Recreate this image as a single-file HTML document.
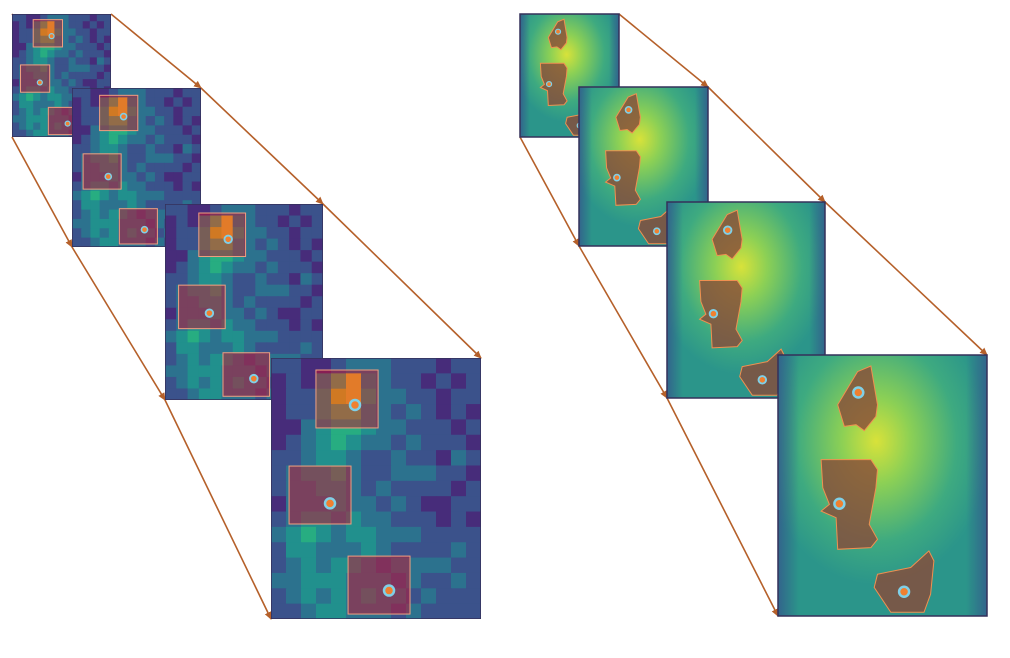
<!DOCTYPE html>
<html><head><meta charset="utf-8"><style>
body{margin:0;background:#fff;width:1010px;height:658px;overflow:hidden;font-family:"Liberation Sans",sans-serif}
svg{display:block}
</style></head><body>
<svg id="fig" width="1010" height="658" viewBox="0 0 1010 658" xmlns="http://www.w3.org/2000/svg">
<defs>
<marker id="ah" markerWidth="8" markerHeight="8" refX="7" refY="4" orient="auto" markerUnits="userSpaceOnUse"><path d="M0,0.5 L8,4 L0,7.5 Z" fill="#b5602a"/></marker>
<radialGradient id="glow" cx="0.47" cy="0.33" r="0.55">
<stop offset="0" stop-color="#d8e23a"/><stop offset="0.3" stop-color="#8cd055"/><stop offset="0.7" stop-color="#3eaa80"/><stop offset="1" stop-color="#2b958a"/></radialGradient>
<linearGradient id="edge" x1="0" y1="0" x2="1" y2="0"><stop offset="0" stop-color="#34588c" stop-opacity="0.8"/><stop offset="0.1" stop-color="#34588c" stop-opacity="0"/><stop offset="0.9" stop-color="#34588c" stop-opacity="0"/><stop offset="1" stop-color="#34588c" stop-opacity="0.8"/></linearGradient>
</defs>
<g id="arrows"></g>
<g id="panels"></g>
</svg>
<script>
// heatmap grid values (0-9), rows top->bottom
const gridRows = [
"22112333222122","12146943221212","12258953322122","12256643232121","11345543322212",
"12345433232221","22344322322132","23445322333221","23344323222212","13334332321122",
"23443433222121","34543443332222","24433343222232","23434432333322","33444333232232",
"23434343323222","22344333232222"];
const viridis = ["#440154","#472c7a","#3b528b","#2c728e","#21908d","#27ad81","#5cc863","#aadc32","#d8e219","#fde725"];
// box & dot positions as fractions of panel
const boxes = [[0.214,0.046,0.296,0.222],[0.086,0.414,0.295,0.222],[0.367,0.759,0.295,0.222]];
const dots = [[0.40,0.18],[0.281,0.557],[0.562,0.891]];
const polys = [
[[180,150],[240,50],[280,33],[300,150],[295,185],[260,228],[235,210],[200,215]],
[[130,315],[280,315],[300,345],[295,400],[275,510],[300,555],[280,580],[180,585],[175,490],[130,470],[155,450],[135,400]],
[[300,660],[400,640],[455,590],[470,620],[460,720],[440,775],[340,775],[290,700]]];
const polyDots = [[242,113],[185,448],[380,713]];
const leftPanels = [[12,14,99,123],[72,88,129,159],[165,204,158,196],[271,358,210,261]];
const rightPanels = [[520,14,99,123],[579,87,129,159],[667,202,158,196],[778,355,209,261]];
const NS="http://www.w3.org/2000/svg";
const P=document.getElementById('panels'), A=document.getElementById('arrows');
function mk(t,at,par){const e=document.createElementNS(NS,t);for(const k in at)e.setAttribute(k,at[k]);par.appendChild(e);return e;}
function arrows(panels,name){
  for(let i=0;i<panels.length-1;i++){
    const a=panels[i],b=panels[i+1];
    const segs=[[a[0],a[1],b[0],b[1]],[a[0]+a[2],a[1],b[0]+b[2],b[1]],[a[0],a[1]+a[3],b[0],b[1]+b[3]]];
    segs.forEach((s,j)=>{const l=mk('line',{x1:s[0],y1:s[1],x2:s[2],y2:s[3],stroke:'#b5602a','stroke-width':1.6,'marker-end':'url(#ah)'},A);
      
      });
  }
}
arrows(leftPanels,'left');arrows(rightPanels,'right');
leftPanels.forEach((p,i)=>{
  const [x,y,w,h]=p;
  const g=mk('g',{},P);
  
  
  const cid='cl'+i;const cp=mk('clipPath',{id:cid},g);mk('rect',{x,y,width:w,height:h},cp);
  g.setAttribute('clip-path','url(#'+cid+')');
  const R=gridRows.length,C=gridRows[0].length;
  gridRows.forEach((row,r)=>{for(let c=0;c<C;c++){
    const cell=mk('rect',{x:x+c*w/C,y:y+r*h/R,width:w/C+0.6,height:h/R+0.6,fill:viridis[+row[c]]},g);
    
    }});
  boxes.forEach((b,k)=>{const bx=mk('rect',{x:x+b[0]*w,y:y+b[1]*h,width:b[2]*w,height:b[3]*h,fill:'#c8102e','fill-opacity':0.5,stroke:'#f0a080','stroke-width':1},g);
    
    });
  const s=w/210;
  dots.forEach(d=>{const c=mk('circle',{cx:x+d[0]*w,cy:y+d[1]*h,r:Math.max(2.5,5*s),fill:'#f08030',stroke:'#7fd0e8','stroke-width':Math.max(1.2,2.5*s)},g);
    
    });
  mk('rect',{x,y,width:w,height:h,fill:'none',stroke:'#34305a','stroke-width':1.5},g);
});
rightPanels.forEach((p,i)=>{
  const [x,y,w,h]=p;
  const g=mk('g',{},P);
  
  
  mk('rect',{x,y,width:w,height:h,fill:'url(#glow)'},g);
  mk('rect',{x,y,width:w,height:h,fill:'url(#edge)'},g);
  polys.forEach(pl=>{const pts=pl.map(q=>(x+q[0]/630*w).toFixed(1)+','+(y+q[1]/786*h).toFixed(1)).join(' ');
    const e=mk('polygon',{points:pts,fill:'#8a4a38','fill-opacity':0.8,stroke:'#f09050','stroke-width':1},g);
    
    });
  const s=w/210;
  polyDots.forEach(d=>{const c=mk('circle',{cx:x+d[0]/630*w,cy:y+d[1]/786*h,r:Math.max(2.5,5*s),fill:'#f08030',stroke:'#7fd0e8','stroke-width':Math.max(1.2,2.5*s)},g);
    
    });
  mk('rect',{x,y,width:w,height:h,fill:'none',stroke:'#34305a','stroke-width':1.5},g);
});
</script>
</body></html>
